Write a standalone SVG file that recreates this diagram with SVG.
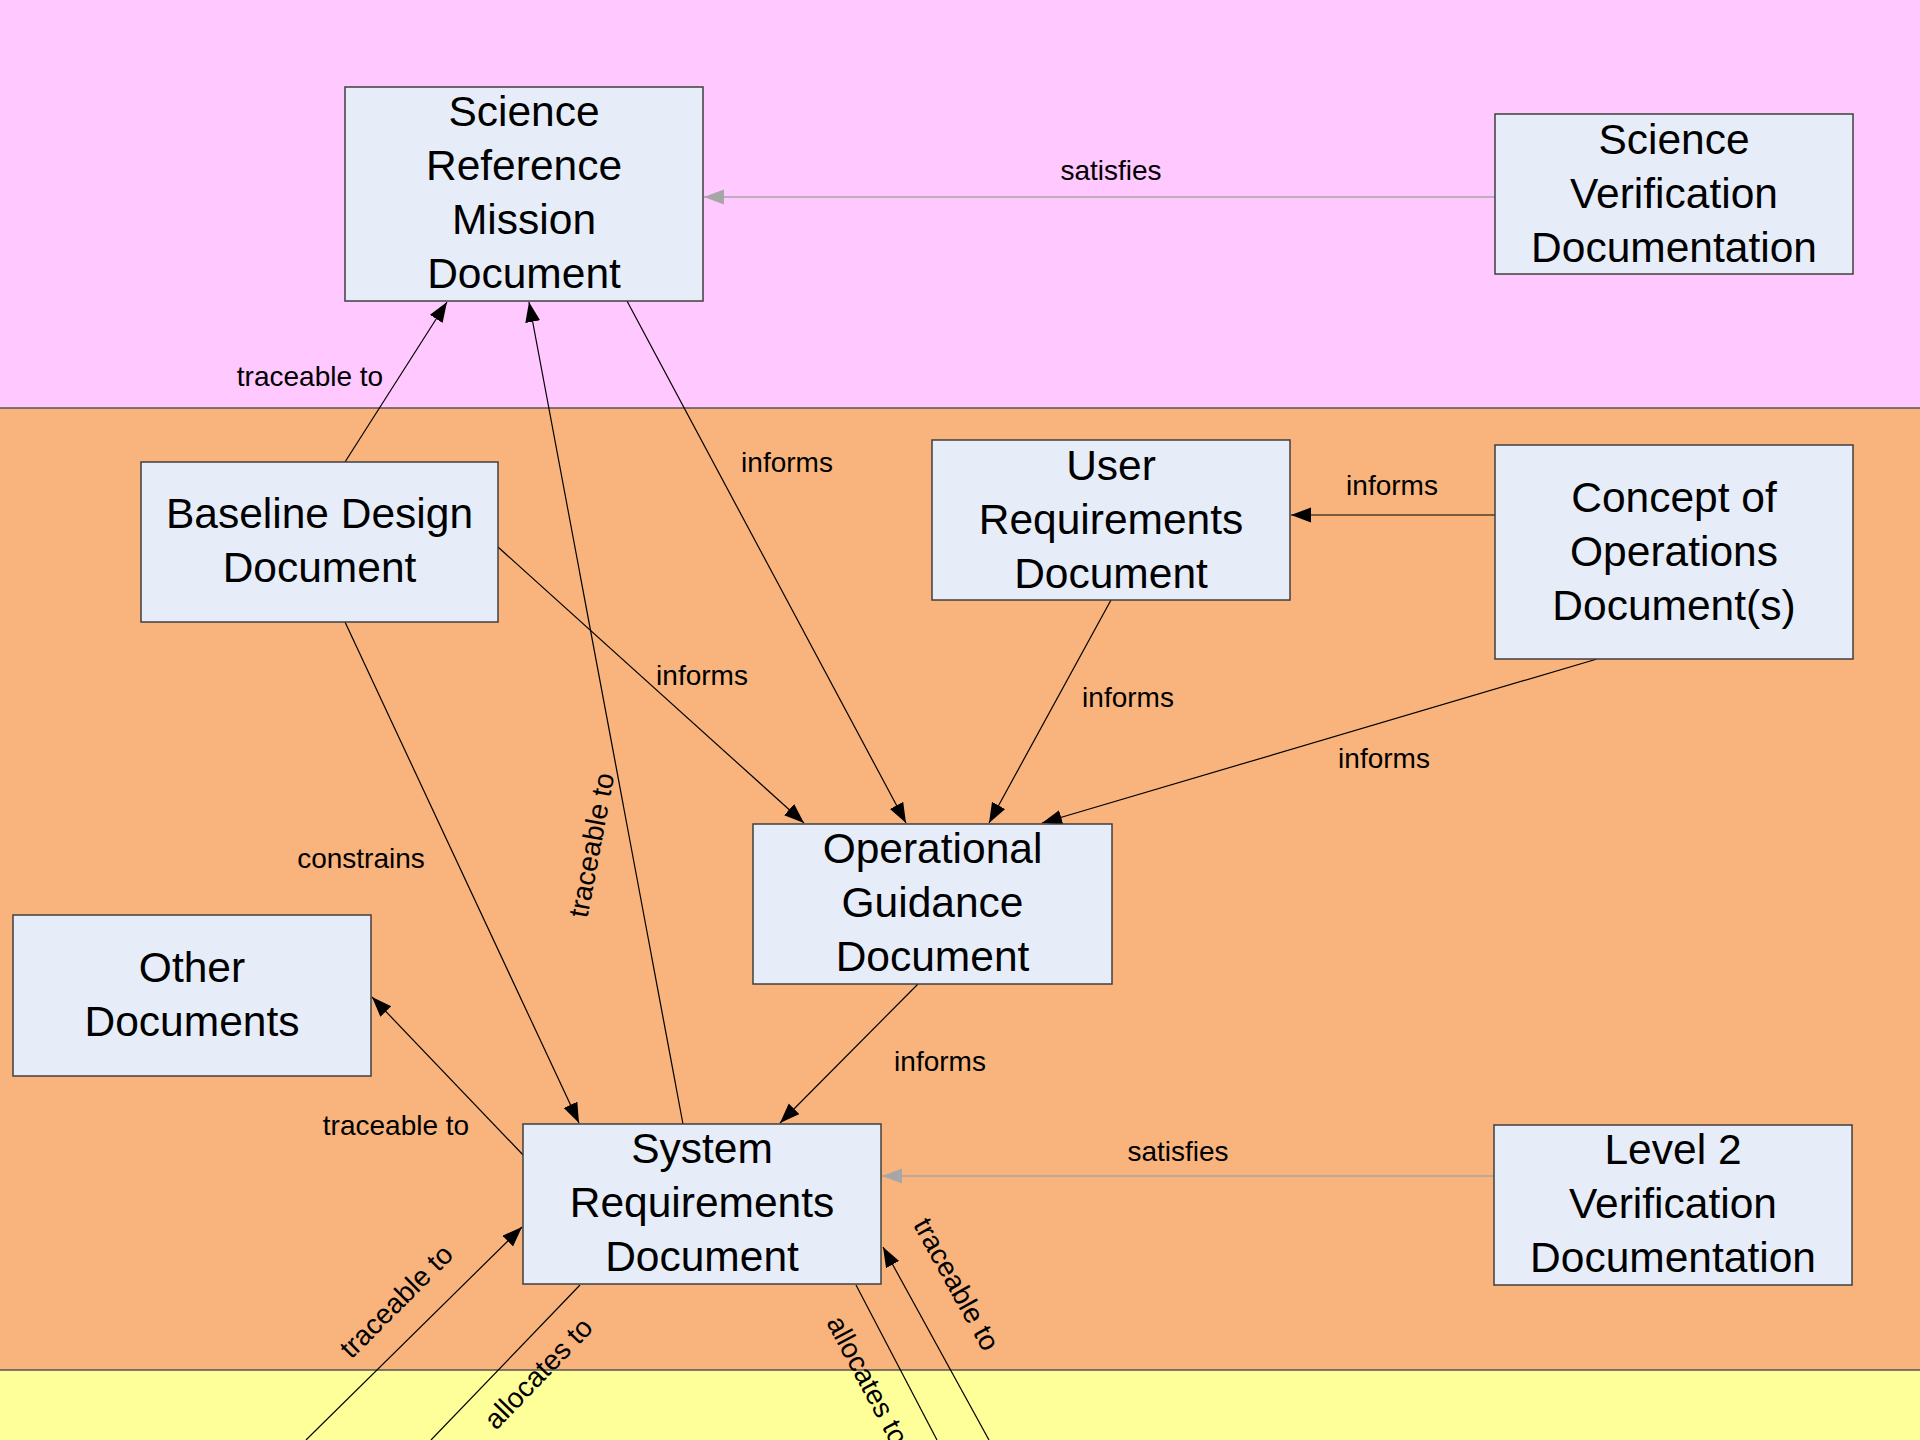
<svg xmlns="http://www.w3.org/2000/svg" width="1920" height="1440" viewBox="0 0 1920 1440">
<defs>
<marker id="ah" markerUnits="userSpaceOnUse" markerWidth="22" markerHeight="16" refX="20" refY="7.5" orient="auto"><path d="M0,0 L20,7.5 L0,15 Z" fill="#000"/></marker>
<marker id="ahg" markerUnits="userSpaceOnUse" markerWidth="22" markerHeight="16" refX="20" refY="7.5" orient="auto"><path d="M0,0 L20,7.5 L0,15 Z" fill="#a6a6a6"/></marker>
<style>
.node{fill:#e6edf8;stroke:#3f3f3f;stroke-width:1.5}
.nt{font-family:"Liberation Sans",Arial,sans-serif;font-size:42.5px;fill:#000;text-anchor:middle}
.lb{font-family:"Liberation Sans",Arial,sans-serif;font-size:28px;fill:#000;text-anchor:middle}
.c{stroke:#000;stroke-width:1.2;fill:none;marker-end:url(#ah)}
.cn{stroke:#000;stroke-width:1.2;fill:none}
.g{stroke:#a6a6a6;stroke-width:1.5;fill:none;marker-end:url(#ahg)}
</style>
</defs>
<g id="bands">
<rect x="0" y="0" width="1920" height="408" fill="#ffc8ff"/>
<rect x="0" y="408" width="1920" height="962" fill="#f8b47c"/>
<rect x="0" y="1370" width="1920" height="70" fill="#ffff99"/>
<line x1="0" y1="408" x2="1920" y2="408" stroke="#555" stroke-width="1.5"/>
<line x1="0" y1="1370" x2="1920" y2="1370" stroke="#555" stroke-width="1.5"/>
</g>
<g id="connectors">
<line class="g" x1="1495" y1="197" x2="704" y2="197"/>
<line class="c" x1="345" y1="462" x2="447" y2="302"/>
<line class="c" x1="683" y1="1124" x2="529" y2="302"/>
<line class="c" x1="627" y1="301" x2="906" y2="823"/>
<line class="c" x1="498" y1="547" x2="804" y2="823"/>
<line class="c" x1="1111" y1="600" x2="989" y2="823"/>
<line class="c" x1="1597" y1="659" x2="1042" y2="823"/>
<line class="c" x1="1495" y1="515" x2="1291" y2="515"/>
<line class="c" x1="345" y1="622" x2="579" y2="1123"/>
<line class="c" x1="918" y1="984" x2="780" y2="1123"/>
<line class="c" x1="525" y1="1157" x2="372" y2="997"/>
<line class="g" x1="1494" y1="1176" x2="882" y2="1176"/>
<line class="c" x1="306" y1="1440" x2="522" y2="1227"/>
<line class="cn" x1="580" y1="1285" x2="431" y2="1440"/>
<line class="cn" x1="856" y1="1285" x2="937" y2="1440"/>
<line class="c" x1="989" y1="1440" x2="883" y2="1247"/>
<text class="lb" x="1111" y="180">satisfies</text>
<text class="lb" x="310" y="386">traceable to</text>
<text class="lb" transform="rotate(-79.4 591 845)" x="591" y="855">traceable to</text>
<text class="lb" x="787" y="472">informs</text>
<text class="lb" x="702" y="685">informs</text>
<text class="lb" x="1128" y="707">informs</text>
<text class="lb" x="1384" y="768">informs</text>
<text class="lb" x="1392" y="495">informs</text>
<text class="lb" x="361" y="868">constrains</text>
<text class="lb" x="940" y="1071">informs</text>
<text class="lb" x="396" y="1135">traceable to</text>
<text class="lb" x="1178" y="1161">satisfies</text>
<text class="lb" transform="rotate(-45 396 1301)" x="396" y="1311">traceable to</text>
<text class="lb" transform="rotate(-46 538 1373)" x="538" y="1383">allocates to</text>
<text class="lb" transform="rotate(62 868 1380)" x="868" y="1390">allocates to</text>
<text class="lb" transform="rotate(61 957 1284)" x="957" y="1294">traceable to</text>
</g>
<g id="srmd"><rect class="node" x="345" y="87" width="358" height="214"/>
<text class="nt" x="524" y="126">Science</text><text class="nt" x="524" y="180">Reference</text><text class="nt" x="524" y="234">Mission</text><text class="nt" x="524" y="288">Document</text></g>
<g id="svd"><rect class="node" x="1495" y="114" width="358" height="160"/>
<text class="nt" x="1674" y="154">Science</text><text class="nt" x="1674" y="208">Verification</text><text class="nt" x="1674" y="262">Documentation</text></g>
<g id="bdd"><rect class="node" x="141" y="462" width="357" height="160"/>
<text class="nt" x="319.5" y="528">Baseline Design</text><text class="nt" x="319.5" y="582">Document</text></g>
<g id="urd"><rect class="node" x="932" y="440" width="358" height="160"/>
<text class="nt" x="1111" y="480">User</text><text class="nt" x="1111" y="534">Requirements</text><text class="nt" x="1111" y="588">Document</text></g>
<g id="conops"><rect class="node" x="1495" y="445" width="358" height="214"/>
<text class="nt" x="1674" y="512">Concept of</text><text class="nt" x="1674" y="566">Operations</text><text class="nt" x="1674" y="620">Document(s)</text></g>
<g id="ogd"><rect class="node" x="753" y="824" width="359" height="160"/>
<text class="nt" x="932.5" y="863">Operational</text><text class="nt" x="932.5" y="917">Guidance</text><text class="nt" x="932.5" y="971">Document</text></g>
<g id="other"><rect class="node" x="13" y="915" width="358" height="161"/>
<text class="nt" x="192" y="982">Other</text><text class="nt" x="192" y="1036">Documents</text></g>
<g id="srd"><rect class="node" x="523" y="1124" width="358" height="160"/>
<text class="nt" x="702" y="1163">System</text><text class="nt" x="702" y="1217">Requirements</text><text class="nt" x="702" y="1271">Document</text></g>
<g id="l2vd"><rect class="node" x="1494" y="1125" width="358" height="160"/>
<text class="nt" x="1673" y="1164">Level 2</text><text class="nt" x="1673" y="1218">Verification</text><text class="nt" x="1673" y="1272">Documentation</text></g>
</svg>
